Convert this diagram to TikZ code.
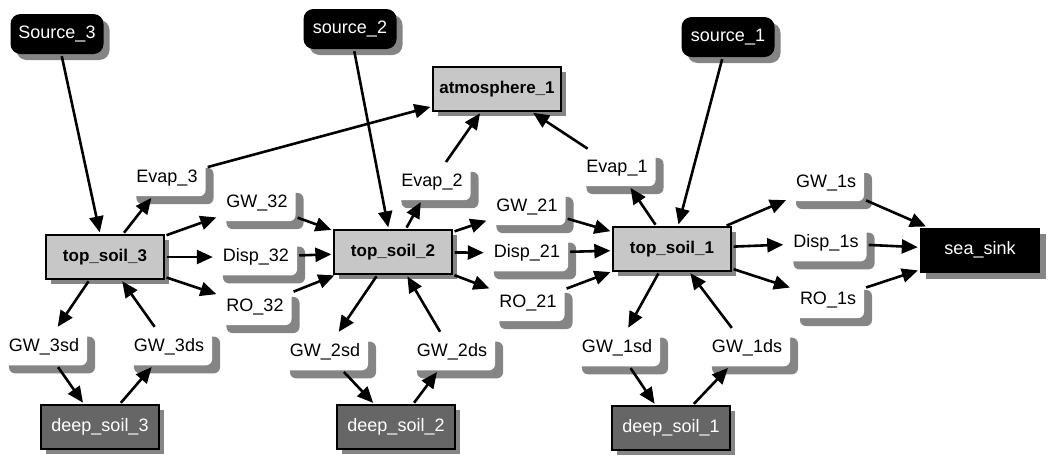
\documentclass[tikz,border=0pt]{standalone}
\usepackage{fontspec}
\setmainfont{Liberation Sans}
\usetikzlibrary{arrows.meta,shadows}
\begin{document}
\begin{tikzpicture}[x=1pt,y=-1pt,
  every node/.style={font=\fontsize{18}{21}\selectfont},
  shd/.style={drop shadow={shadow xshift=#1, shadow yshift=-#1, fill=black!48, opacity=1}},
  flow/.style={fill=white, rounded corners=6pt, inner xsep=8pt, inner ysep=10pt, shd=8pt},
  srcbox/.style={fill=black, text=white, rounded corners=10pt, minimum width=93pt, minimum height=40pt, shd=6pt},
  topbox/.style={draw=black, line width=1.3pt, fill=black!22, minimum width=118pt, minimum height=44pt, font=\fontsize{17}{20}\selectfont\bfseries, shd=5pt},
  deepbox/.style={draw=black, line width=1.3pt, fill=black!60, text=white, minimum width=118pt, minimum height=44pt, shd=5pt},
  sinkbox/.style={fill=black, text=white, minimum width=120pt, minimum height=45pt, shd=6pt},
  arr/.style={line width=2.6pt, -{Triangle[length=16pt,width=14pt]}, shorten <=2pt, shorten >=2pt}
]
\useasboundingbox (0,0) rectangle (1049,458);

% main nodes
\node[srcbox] (s3) at (57,34) {Source\_3};
\node[srcbox] (s2) at (350,29) {source\_2};
\node[srcbox] (s1) at (728,37) {source\_1};
\node[topbox, minimum width=128pt] (atm) at (497,89) {atmosphere\_1};
\node[topbox] (t3) at (105,257) {top\_soil\_3};
\node[topbox] (t2) at (393,252) {top\_soil\_2};
\node[topbox] (t1) at (672,249) {top\_soil\_1};
\node[deepbox] (d3) at (100,427) {deep\_soil\_3};
\node[deepbox] (d2) at (396,427) {deep\_soil\_2};
\node[deepbox] (d1) at (671,428) {deep\_soil\_1};
\node[sinkbox] (sink) at (980,250) {sea\_sink};

% flow labels
\node[flow] (ev3) at (167,178) {Evap\_3};
\node[flow] (gw32) at (257,203) {GW\_32};
\node[flow] (disp32) at (256,257) {Disp\_32};
\node[flow] (ro32) at (255,307) {RO\_32};
\node[flow] (gw3sd) at (44,347) {GW\_3sd};
\node[flow] (gw3ds) at (169,347) {GW\_3ds};
\node[flow] (ev2) at (432,182) {Evap\_2};
\node[flow] (gw21) at (527,207) {GW\_21};
\node[flow] (disp21) at (527,253) {Disp\_21};
\node[flow] (ro21) at (528,303) {RO\_21};
\node[flow] (gw2sd) at (325,352) {GW\_2sd};
\node[flow] (gw2ds) at (452,352) {GW\_2ds};
\node[flow] (ev1) at (617,168) {Evap\_1};
\node[flow] (gw1s) at (826,183) {GW\_1s};
\node[flow] (disp1s) at (826,243) {Disp\_1s};
\node[flow] (ro1s) at (828,300) {RO\_1s};
\node[flow] (gw1sd) at (617,348) {GW\_1sd};
\node[flow] (gw1ds) at (747,348) {GW\_1ds};

% connectors
\draw[arr] (s3) -- (t3);
\draw[arr] (s2) -- (t2);
\draw[arr] (s1) -- (t1);

\draw[arr] (t3) -- (ev3);
\draw[arr] (ev3) -- (atm);
\draw[arr] (t3) -- (gw32);
\draw[arr] (gw32) -- (t2);
\draw[arr] (t3) -- (disp32);
\draw[arr] (disp32) -- (t2);
\draw[arr] (t3) -- (ro32);
\draw[arr] (ro32) -- (t2);
\draw[arr] (t3) -- (gw3sd);
\draw[arr] (gw3sd) -- (d3);
\draw[arr] (d3) -- (gw3ds);
\draw[arr] (gw3ds) -- (t3);

\draw[arr] (t2) -- (ev2);
\draw[arr] (ev2) -- (atm);
\draw[arr] (t2) -- (gw21);
\draw[arr] (gw21) -- (t1);
\draw[arr] (t2) -- (disp21);
\draw[arr] (disp21) -- (t1);
\draw[arr] (t2) -- (ro21);
\draw[arr] (ro21) -- (t1);
\draw[arr] (t2) -- (gw2sd);
\draw[arr] (gw2sd) -- (d2);
\draw[arr] (d2) -- (gw2ds);
\draw[arr] (gw2ds) -- (t2);

\draw[arr] (t1) -- (ev1);
\draw[arr] (ev1) -- (atm);
\draw[arr] (t1) -- (gw1s);
\draw[arr] (gw1s) -- (sink);
\draw[arr] (t1) -- (disp1s);
\draw[arr] (disp1s) -- (sink);
\draw[arr] (t1) -- (ro1s);
\draw[arr] (ro1s) -- (sink);
\draw[arr] (t1) -- (gw1sd);
\draw[arr] (gw1sd) -- (d1);
\draw[arr] (d1) -- (gw1ds);
\draw[arr] (gw1ds) -- (t1);
\end{tikzpicture}
\end{document}
